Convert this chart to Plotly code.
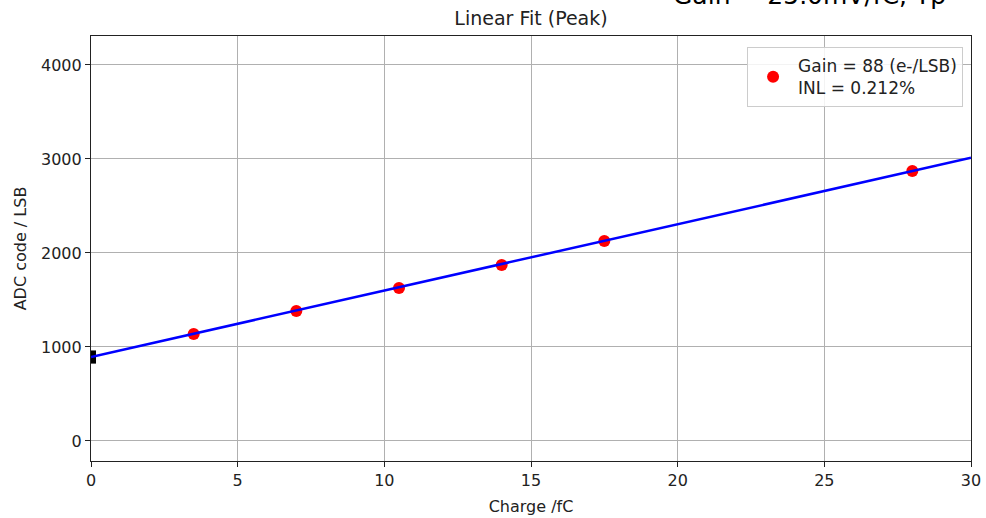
import plotly.graph_objects as go

# Data
charge_fc = [3.5, 7.0, 10.5, 14.0, 17.5, 28.0]
adc_peak = [1138, 1383, 1628, 1872, 2128, 2872]
fit_x = [0, 30]
fit_y = [894, 3012]
baseline_x = [0, 0]
baseline_y = [823, 963]
x_ticks = [0, 5, 10, 15, 20, 25, 30]
y_ticks = [0, 1000, 2000, 3000, 4000]
legend_label = "Gain = 88 (e-/LSB)<br>INL = 0.212%"
title_text = "Linear Fit (Peak)"
clipped_text = "Gain = 25.0mV/fC, Tp"

FONT = "DejaVu Sans"

fig = go.Figure()
fig.add_trace(go.Scatter(
    x=baseline_x, y=baseline_y, mode="lines",
    line=dict(color="black", width=10), showlegend=False, hoverinfo="skip"))
fig.add_trace(go.Scatter(
    x=charge_fc, y=adc_peak, mode="markers", name=legend_label,
    marker=dict(color="red", size=12, line=dict(width=0))))
fig.add_trace(go.Scatter(
    x=fit_x, y=fit_y, mode="lines",
    line=dict(color="#0000ff", width=2.5), showlegend=False))

axis_common = dict(
    showgrid=True, gridcolor="#b0b0b0", gridwidth=1,
    showline=True, linecolor="#222222", linewidth=1.2, mirror=True,
    ticks="outside", ticklen=5, tickcolor="#222222", tickwidth=1,
    zeroline=False, automargin=False,
    tickfont=dict(family=FONT, size=16, color="#222222"),
)

fig.update_layout(
    width=986, height=518,
    margin=dict(l=91, r=15, t=36, b=57),
    paper_bgcolor="white", plot_bgcolor="white",
    font=dict(family=FONT, color="#222222"),
    title=dict(text=title_text, x=(531) / 986, xanchor="center",
               y=1 - 18 / 518, yanchor="middle",
               font=dict(family=FONT, size=19, color="#222222")),
    xaxis=dict(range=[0, 30], tickvals=x_ticks,
               title=dict(text="Charge /fC", font=dict(family=FONT, size=16), standoff=11),
               **axis_common),
    yaxis=dict(range=[-213, 4308], tickvals=y_ticks,
               title=dict(text="ADC code / LSB", font=dict(family=FONT, size=16), standoff=10),
               **axis_common),
    legend=dict(x=0.991, y=0.974, xanchor="right", yanchor="top",
                bgcolor="rgba(255,255,255,0.85)", bordercolor="#cccccc", borderwidth=1,
                font=dict(family=FONT, size=17, color="#222222"),
                valign="middle", itemwidth=40),
    showlegend=True,
    annotations=[dict(
        text=clipped_text, xref="paper", yref="paper",
        x=0.816, y=1 + (36 - 12) / 425, xanchor="center", yanchor="bottom",
        showarrow=False, font=dict(family=FONT, size=25, color="black"))],
)

fig.write_html("out.html",
               config={"displayModeBar": False},
               post_script="document.body.style.margin='0';document.body.style.overflow='hidden';")
